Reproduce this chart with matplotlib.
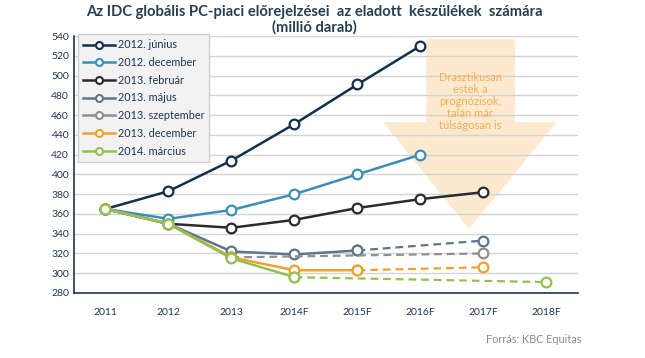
import numpy as np
import matplotlib
matplotlib.use("Agg")
import matplotlib.pyplot as plt
from matplotlib.patches import Polygon

plt.rcParams['font.family'] = ['Lato', 'DejaVu Sans']

years = ["2011", "2012", "2013", "2014F", "2015F", "2016F", "2017F", "2018F"]
labels = ["2012. június", "2012. december", "2013. február", "2013. május",
          "2013. szeptember", "2013. december", "2014. március"]
colors = ["#12304d", "#3b8fb5", "#2b2b2b", "#5e7689", "#8f8f8f", "#f0a02c", "#93c052"]

# forecasts (millió darab), None = nincs adat
jun12 = [365, 383, 414, 451, 491, 530, None, None]
dec12 = [365, 355, 364, 380, 400, 420, None, None]
feb13 = [365, 350, 346, 354, 366, 375, 382, None]
maj13 = [365, 350, 322, 319, 323, None, None, None]
sep13 = [365, 350, 316, None, None, None, None, None]
dec13 = [365, 350, 316, 303, 303, None, None, None]
mar14 = [365, 350, 315, 296, None, None, None, None]
# szaggatott folytatások
maj13_d = [None, None, None, None, 323, None, 333, None]
sep13_d = [None, None, 316, None, None, None, 320, None]
dec13_d = [None, None, None, None, 303, None, 306, None]
mar14_d = [None, None, None, 296, None, None, None, 291]

solid = [jun12, dec12, feb13, maj13, sep13, dec13, mar14]
dashed = [None, None, None, maj13_d, sep13_d, dec13_d, mar14_d]


def pts(vals):
    xs = [i for i, v in enumerate(vals) if v is not None]
    ys = [v for v in vals if v is not None]
    return xs, ys


fig = plt.figure(figsize=(6.45, 3.58), dpi=100)
ax = fig.add_axes([0.1147, 0.1816, 0.7814, 0.7178])

navy = "#1f3550"
for i in range(len(labels)):
    if dashed[i] is not None:
        xs, ys = pts(dashed[i])
        ax.plot(xs, ys, color=colors[i], lw=1.6, ls=(0, (3.5, 2.2)), marker="o",
                ms=7, mfc="white", mew=1.6, zorder=3 + i)
    xs, ys = pts(solid[i])
    ax.plot(xs, ys, color=colors[i], lw=1.8, marker="o", ms=7, mfc="white",
            mew=1.6, label=labels[i], zorder=3 + i)

ax.set_xlim(-0.5, 7.5)
ax.set_ylim(280, 540)
ax.set_yticks(np.arange(280, 541, 20))
ax.set_xticks(range(len(years)))
ax.set_xticklabels(years)
ax.tick_params(length=0, labelsize=7.5, labelcolor=navy)
ax.tick_params(axis="x", pad=11)
ax.set_axisbelow(True)
ax.grid(axis="y", color="#d4d4d4", lw=1)
for s in ["top", "right"]:
    ax.spines[s].set_visible(False)
for s in ["left", "bottom"]:
    ax.spines[s].set_color(navy)
    ax.spines[s].set_linewidth(1.2)

# nagy lefelé mutató nyíl (axes koordinátákban)
arrow = Polygon([(0.699, 0.988), (0.875, 0.988), (0.875, 0.665), (0.958, 0.665),
                 (0.784, 0.249), (0.613, 0.665), (0.699, 0.665)],
                closed=True, transform=ax.transAxes, facecolor="#fde9cf",
                edgecolor="none", zorder=0.4)
ax.add_patch(arrow)
ax.text(0.786, 0.745, "Drasztikusan\nestek a\nprognózisok,\ntalán már\ntúlságosan is",
        transform=ax.transAxes, ha="center", va="center", fontsize=8,
        color="#efb04e", linespacing=1.1, zorder=0.6)

leg = ax.legend(loc="upper left", bbox_to_anchor=(0.008, 1.006), fontsize=7.8,
                frameon=True, fancybox=False, handlelength=3.0, labelspacing=0.62,
                borderpad=0.45, handletextpad=0.2, labelcolor=navy,
                borderaxespad=0)
leg.get_frame().set_facecolor("#f2f2f2")
leg.get_frame().set_edgecolor("#d0d0d0")
leg.get_frame().set_alpha(1)
for h in leg.legend_handles:
    h.set_linestyle("-")
    h.set_markersize(5)
    h.set_markeredgewidth(1.5)

fig.text(0.488, 0.985, "Az IDC globális PC-piaci előrejelzései  az eladott  készülékek  számára\n(millió darab)",
         ha="center", va="top", fontsize=10.6, fontweight="bold", color="#263d52",
         linespacing=1.02)
fig.text(0.901, 0.052, "Forrás: KBC Equitas", ha="right", va="center", fontsize=7.8,
         color="#8c8c8c")

fig.savefig("out.png", dpi=100)
